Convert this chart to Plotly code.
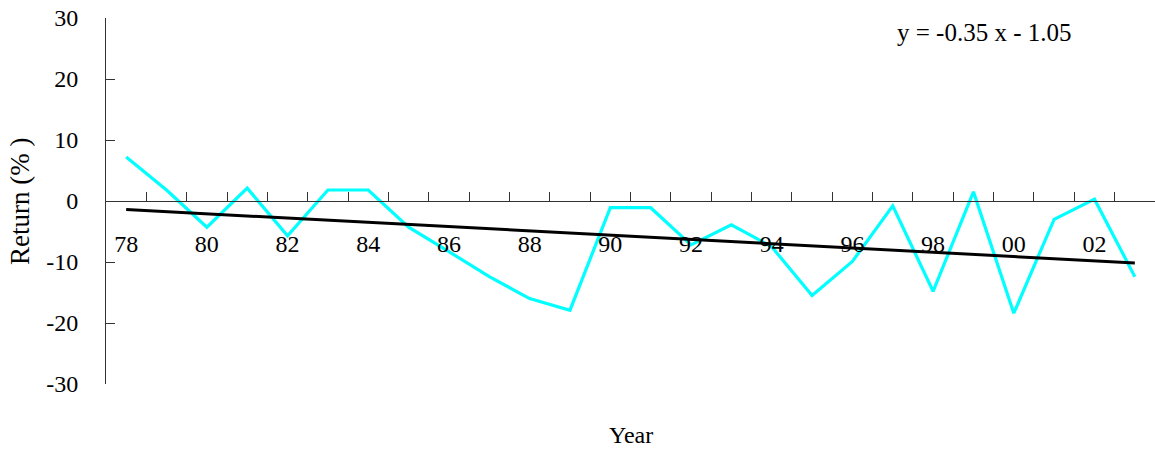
import plotly.graph_objects as go

# ---- data ----
years = list(range(1978, 2004))
returns = [7.2, 1.8, -4.3, 2.1, -5.7, 1.8, 1.8, -4.3, -8.3, -12.4,
           -16.0, -17.9, -1.1, -1.1, -7.2, -3.9, -7.5, -15.5, -9.9, -0.8,
           -14.8, 1.5, -18.4, -3.0, 0.3, -12.4]
label_years = list(range(1978, 2003, 2))
label_text = ["78", "80", "82", "84", "86", "88", "90", "92", "94", "96", "98", "00", "02"]
boundary_ticks = [y + 0.5 for y in years[:-1]]
y_ticks = [-30, -20, -10, 0, 10, 20, 30]
y_tick_text = ["-30", "-20", "-10", "0", "10", "20", "30"]

# trend line from the displayed regression equation (x = 1..N)
slope = -0.35
intercept = -1.05
trend_x = [years[0], years[-1]]
trend_y = [slope * 1 + intercept, slope * len(years) + intercept]

FONT = "Liberation Serif"
AXIS_COLOR = "#333333"

fig = go.Figure()
fig.add_trace(go.Scatter(x=years, y=returns, mode="lines",
                         line=dict(color="#00FFFF", width=3.2), showlegend=False))
fig.add_trace(go.Scatter(x=trend_x, y=trend_y, mode="lines",
                         line=dict(color="#000000", width=3), showlegend=False))

fig.update_layout(
    width=1155, height=449,
    margin=dict(l=106, r=0, t=18, b=65),
    paper_bgcolor="white", plot_bgcolor="white",
    font=dict(family=FONT, size=24, color="black"),
    xaxis=dict(
        range=[1977.5, 2003.5],
        anchor="free", position=0.5,
        showline=True, linecolor=AXIS_COLOR, linewidth=1,
        showgrid=False, zeroline=False,
        tickmode="array", tickvals=label_years, ticktext=label_text,
        ticks="", ticklabelstandoff=21,
        tickfont=dict(family=FONT, size=24, color="black"),
        minor=dict(tickmode="array", tickvals=boundary_ticks, ticks="inside",
                   ticklen=9, tickcolor=AXIS_COLOR, tickwidth=1, showgrid=False),
        automargin=False,
    ),
    yaxis=dict(
        range=[-30, 30],
        showline=True, linecolor=AXIS_COLOR, linewidth=1,
        showgrid=False, zeroline=False,
        tickmode="array", tickvals=y_ticks, ticktext=y_tick_text,
        ticks="inside", ticklen=9, tickcolor=AXIS_COLOR,
        ticklabelstandoff=22,
        tickfont=dict(family=FONT, size=24, color="black"),
        automargin=False,
    ),
    annotations=[
        dict(text="Return (% )", xref="paper", yref="paper",
             x=(20 - 106) / 1049, y=(384 - 202) / 366, textangle=-90,
             xanchor="center", yanchor="middle", showarrow=False,
             font=dict(family=FONT, size=27, color="black")),
        dict(text="Year", xref="paper", yref="paper",
             x=(631 - 106) / 1049, y=(384 - 435) / 366,
             xanchor="center", yanchor="middle", showarrow=False,
             font=dict(family=FONT, size=24, color="black")),
        dict(text="y = -0.35 x - 1.05", xref="paper", yref="paper",
             x=(985 - 106) / 1049, y=(384 - 32) / 366,
             xanchor="center", yanchor="middle", showarrow=False,
             font=dict(family=FONT, size=25, color="black")),
    ],
)

fig.write_html("out.html", config={"displayModeBar": False},
               post_script="document.body.style.margin='0';")
